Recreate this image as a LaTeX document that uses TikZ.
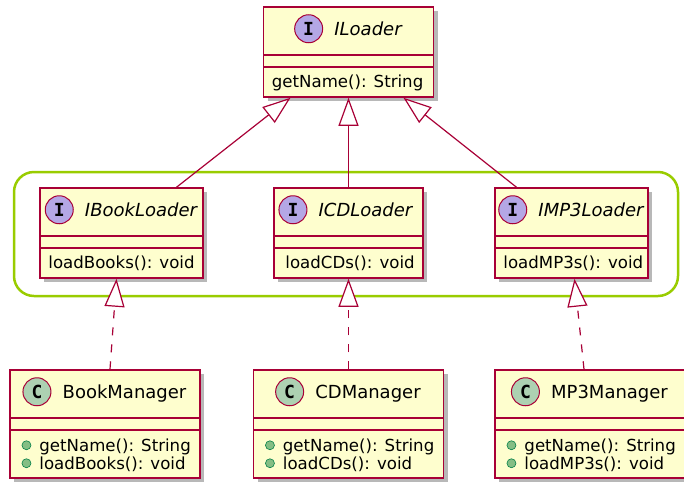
\documentclass[tikz,border=0pt]{standalone}
\usepackage{fontspec}
\setmainfont{DejaVu Sans}
\setmonofont{DejaVu Sans Mono}
\usepackage{tikz}
\usetikzlibrary{shapes,arrows.meta,positioning,shadows}
\definecolor{umlborder}{HTML}{A80036}
\definecolor{umlfill}{HTML}{FEFECE}
\definecolor{ifacecirc}{HTML}{B4A7E5}
\definecolor{classcirc}{HTML}{ADD1B2}
\definecolor{pubfill}{HTML}{84BE84}
\definecolor{pubborder}{HTML}{038048}
\definecolor{groupgreen}{RGB}{153,204,0}
\tikzstyle{umlbox} = [rectangle, draw=umlborder, fill=umlfill, line width=1.5pt,
    drop shadow={shadow xshift=4pt, shadow yshift=-4pt, fill=black, opacity=0.28},
    path picture={
      \draw[umlborder, line width=1.5pt] ([yshift=-48pt]path picture bounding box.north west) -- ([yshift=-48pt]path picture bounding box.north east);
      \draw[umlborder, line width=1.5pt] ([yshift=-60pt]path picture bounding box.north west) -- ([yshift=-60pt]path picture bounding box.north east);}]
\tikzstyle{iface} = [umlbox, minimum height=90pt]
\tikzstyle{cls} = [umlbox, minimum height=108pt, minimum width=190pt]
\tikzstyle{title} = [inner sep=0pt, text height=13pt, text depth=0pt, font=\fontsize{18}{20}\selectfont]
\tikzstyle{ititle} = [title, font=\fontsize{18}{20}\selectfont\itshape]
\tikzstyle{badge} = [circle, draw=umlborder, line width=1pt, minimum size=28pt, inner sep=0pt,
    font=\fontsize{18}{18}\selectfont\ttfamily\bfseries]
\tikzstyle{ibadge} = [badge, fill=ifacecirc]
\tikzstyle{cbadge} = [badge, fill=classcirc]
\tikzstyle{member} = [inner sep=0pt, anchor=base west, text height=12pt, text depth=0pt,
    font=\fontsize{16.6}{18}\selectfont]
\tikzstyle{pubdot} = [circle, draw=pubborder, fill=pubfill, line width=0.6pt, minimum size=9pt, inner sep=0pt]
\tikzstyle{extends} = [draw=umlborder, line width=1.2pt, -{Triangle[length=28pt, width=20pt, fill=white]}]
\tikzstyle{realizes} = [extends, dash pattern=on 8pt off 9pt]
\tikzstyle{group} = [draw=groupgreen, line width=2.5pt, rounded corners=20pt]

\begin{document}
\begin{tikzpicture}[x=1pt, y=-1pt, node distance=181pt]
  \useasboundingbox (0,0) rectangle (684,482);
  % group frame
  \draw [group] (14,172) rectangle (678,296);
  % Place nodes
  \node [iface, minimum width=170pt] (iloader) at (348.5,52) {};
  \node [iface, minimum width=149pt, below of=iloader] (icdloader) {};
  \node [iface, minimum width=163pt, left of=icdloader, node distance=227pt] (ibookloader) {};
  \node [iface, minimum width=153pt, right of=icdloader, node distance=223pt] (imp3loader) {};
  \node [cls, below of=icdloader, node distance=191pt] (cdmgr) {};
  \node [cls, left of=cdmgr, node distance=243.5pt] (bookmgr) {};
  \node [cls, right of=cdmgr, node distance=241.5pt] (mp3mgr) {};
  % titles
  \node [ititle] (iloaderName) at ([xshift=19.5pt, yshift=-22.5pt]iloader.north) {ILoader};
  \node [ibadge, left=11pt of iloaderName] (iloaderIcon) {I};
  \node [ititle] (ibookloaderName) at ([xshift=19.5pt, yshift=-22.5pt]ibookloader.north) {IBookLoader};
  \node [ibadge, left=11pt of ibookloaderName] (ibookloaderIcon) {I};
  \node [ititle] (icdloaderName) at ([xshift=17pt, yshift=-22.5pt]icdloader.north) {ICDLoader};
  \node [ibadge, left=11pt of icdloaderName] (icdloaderIcon) {I};
  \node [ititle] (imp3loaderName) at ([xshift=19.5pt, yshift=-22.5pt]imp3loader.north) {IMP3Loader};
  \node [ibadge, left=11pt of imp3loaderName] (imp3loaderIcon) {I};
  \node [title] (bookmgrName) at ([xshift=19.5pt, yshift=-22.5pt]bookmgr.north) {BookManager};
  \node [cbadge, left=11pt of bookmgrName] (bookmgrIcon) {C};
  \node [title] (cdmgrName) at ([xshift=19.5pt, yshift=-22.5pt]cdmgr.north) {CDManager};
  \node [cbadge, left=11pt of cdmgrName] (cdmgrIcon) {C};
  \node [title] (mp3mgrName) at ([xshift=19.5pt, yshift=-22.5pt]mp3mgr.north) {MP3Manager};
  \node [cbadge, left=11pt of mp3mgrName] (mp3mgrIcon) {C};
  % members
  \node [member] (iloaderGet) at ([xshift=9pt, yshift=-81pt]iloader.north west) {getName(): String};
  \node [member] (ibookloaderLoad) at ([xshift=9pt, yshift=-81pt]ibookloader.north west) {loadBooks(): void};
  \node [member] (icdloaderLoad) at ([xshift=12pt, yshift=-81pt]icdloader.north west) {loadCDs(): void};
  \node [member] (imp3loaderLoad) at ([xshift=9pt, yshift=-81pt]imp3loader.north west) {loadMP3s(): void};
  \node [member] (bookmgrGet) at ([xshift=30pt, yshift=-82pt]bookmgr.north west) {getName(): String};
  \node [member] (bookmgrLoad) at ([xshift=30pt, yshift=-100pt]bookmgr.north west) {loadBooks(): void};
  \node [member] (cdmgrGet) at ([xshift=30pt, yshift=-82pt]cdmgr.north west) {getName(): String};
  \node [member] (cdmgrLoad) at ([xshift=30pt, yshift=-100pt]cdmgr.north west) {loadCDs(): void};
  \node [member] (mp3mgrGet) at ([xshift=30pt, yshift=-82pt]mp3mgr.north west) {getName(): String};
  \node [member] (mp3mgrLoad) at ([xshift=30pt, yshift=-100pt]mp3mgr.north west) {loadMP3s(): void};
  \node [pubdot, left=8pt of bookmgrGet] (bookmgrGetDot) {};
  \node [pubdot, left=8pt of bookmgrLoad] (bookmgrLoadDot) {};
  \node [pubdot, left=8pt of cdmgrGet] (cdmgrGetDot) {};
  \node [pubdot, left=8pt of cdmgrLoad] (cdmgrLoadDot) {};
  \node [pubdot, left=8pt of mp3mgrGet] (mp3mgrGetDot) {};
  \node [pubdot, left=8pt of mp3mgrLoad] (mp3mgrLoadDot) {};
  % connectors
  \path [extends] ([xshift=55pt]ibookloader.north) -- ([xshift=-58pt]iloader.south);
  \path [extends] (icdloader.north) -- (iloader.south);
  \path [extends] ([xshift=-55pt]imp3loader.north) -- ([xshift=55pt]iloader.south);
  \path [realizes] ([xshift=5pt]bookmgr.north) -- ([xshift=-5pt]ibookloader.south);
  \path [realizes] (cdmgr.north) -- (icdloader.south);
  \path [realizes] ([xshift=-6pt]mp3mgr.north) -- ([xshift=3pt]imp3loader.south);
\end{tikzpicture}
\end{document}
